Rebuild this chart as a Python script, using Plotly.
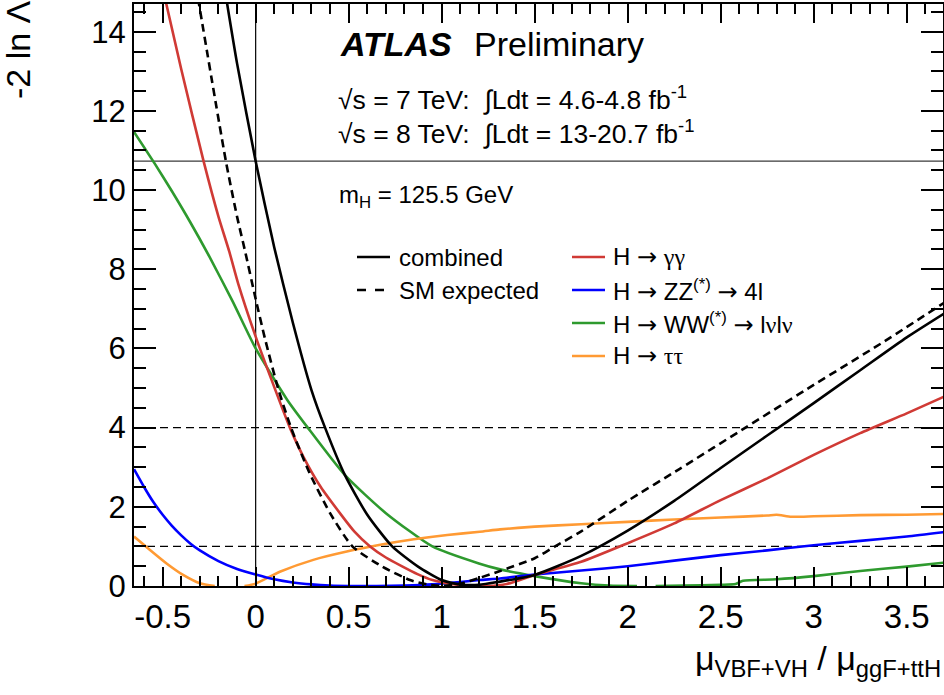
import plotly.graph_objects as go

# ---------------- data ----------------
x_comb = [-0.16, -0.1, 0.0, 0.1, 0.2, 0.3, 0.373, 0.48, 0.6, 0.734, 0.873, 1.0, 1.1, 1.2, 1.3,
          1.5, 1.75, 2.0, 2.25, 2.5, 2.75, 3.0, 3.25, 3.5, 3.7]
y_comb = [14.9, 13.2, 10.73, 8.55, 6.65, 4.95, 4.0, 2.8, 1.8, 1.0, 0.49, 0.15, 0.04, 0.03, 0.1,
          0.28, 0.76, 1.4, 2.15, 2.98, 3.8, 4.62, 5.45, 6.28, 6.88]

x_sm = [-0.31, -0.16, -0.1, -0.058, 0.0, 0.05, 0.12, 0.19, 0.29, 0.4, 0.52, 0.68, 0.83, 0.92,
        1.0, 1.1, 1.2, 1.314, 1.5, 1.61, 1.75, 2.0, 2.28, 2.64, 3.0, 3.36, 3.7]
y_sm = [14.85, 10.73, 9.33, 8.48, 7.25, 6.25, 5.0, 4.0, 2.85, 1.84, 1.0, 0.49, 0.15, 0.04,
        0.0, 0.06, 0.2, 0.38, 0.7, 1.0, 1.38, 2.15, 2.96, 4.02, 5.08, 6.12, 7.15]

x_gg = [-0.49, -0.4, -0.28, -0.2, -0.142, -0.094, 0.0, 0.086, 0.184, 0.256, 0.35, 0.453, 0.53,
        0.615, 0.7, 0.79, 0.87, 0.95, 1.05, 1.15, 1.25, 1.35, 1.5, 1.75, 2.0, 2.25, 2.5, 2.75,
        3.0, 3.25, 3.5, 3.7]
y_gg = [14.9, 13.05, 10.73, 9.33, 8.45, 7.64, 6.3, 5.2, 4.0, 3.27, 2.5, 1.84, 1.38, 1.0, 0.72,
        0.49, 0.3, 0.15, 0.05, 0.01, 0.0, 0.05, 0.28, 0.61, 1.08, 1.58, 2.17, 2.72, 3.31, 3.86,
        4.36, 4.78]

x_zz = [-0.654, -0.6, -0.55, -0.5, -0.45, -0.4, -0.35, -0.3, -0.2, -0.1, 0.0, 0.1, 0.2, 0.3,
        0.4, 0.5, 0.65, 0.8, 0.95, 1.1, 1.205, 1.314, 1.5, 1.75, 2.0, 2.25, 2.5, 2.75, 3.0,
        3.25, 3.5, 3.7]
y_zz = [2.95, 2.5, 2.12, 1.8, 1.52, 1.28, 1.07, 0.9, 0.63, 0.43, 0.29, 0.17, 0.09, 0.04,
        0.01, 0.0, 0.0, 0.01, 0.04, 0.1, 0.15, 0.19, 0.29, 0.39, 0.5, 0.64, 0.78, 0.9, 1.03,
        1.14, 1.25, 1.36]

x_ww = [-0.654, -0.54, -0.45, -0.353, -0.25, -0.125, 0.0, 0.17, 0.28, 0.48, 0.7, 0.95, 1.2,
        1.314, 1.5, 1.75, 1.9, 2.05, 2.1, 2.15, 2.3, 2.5, 2.58, 2.62, 2.8, 3.0, 3.25, 3.5, 3.7]
y_ww = [11.47, 10.65, 9.97, 9.2, 8.33, 7.2, 6.0, 4.7, 4.0, 2.8, 1.84, 1.0, 0.57, 0.42, 0.25,
        0.07, 0.01, 0.0, None, 0.0, 0.01, 0.03, 0.05, 0.13, 0.17, 0.25, 0.38, 0.49, 0.59]

x_tt = [-0.654, -0.568, -0.479, -0.39, -0.3, -0.22, -0.14, -0.06, 0.0, 0.13, 0.31, 0.49, 0.67,
        0.85, 1.03, 1.205, 1.314, 1.5, 1.75, 2.0, 2.25, 2.5, 2.75, 2.8, 2.88, 3.0, 3.25, 3.5, 3.7]
y_tt = [1.25, 0.91, 0.57, 0.28, 0.07, 0.0, None, 0.0, 0.06, 0.36, 0.66, 0.87, 1.04, 1.18, 1.29,
        1.37, 1.43, 1.50, 1.56, 1.62, 1.68, 1.73, 1.78, 1.80, 1.75, 1.76, 1.79, 1.80, 1.82]

sm_level = 10.73          # horizontal solid line
ref_levels = [1, 4]       # dashed horizontal lines
x_ticks = [-0.5, 0, 0.5, 1, 1.5, 2, 2.5, 3, 3.5]
x_ticktext = ["-0.5", "0", "0.5", "1", "1.5", "2", "2.5", "3", "3.5"]
y_ticks = [0, 2, 4, 6, 8, 10, 12, 14]
y_ticktext = ["0", "2", "4", "6", "8", "10", "12", "14"]
x_range = [-0.654, 3.695]
y_range = [0, 14.7]

# ---------------- styling ----------------
FONT = "Liberation Sans, Arial, Helvetica, sans-serif"
RED = "#d03a35"
BLUE = "#0000ff"
GREEN = "#2e9a2e"
ORANGE = "#ff9a33"

W, H = 944, 695
L, R, T, B = 134, 1, 4, 109
PW, PH = W - L - R, H - T - B


def px(xp):
    return (xp - L) / PW


def py(yp):
    return (H - B - yp) / PH


ARROW = "<span style='font-family:DejaVu Sans'>→</span>"


def greek(s):
    return "<span style='font-family:Liberation Serif'>" + s + "</span>"


fig = go.Figure()

# reference lines
fig.add_trace(go.Scatter(x=x_range, y=[sm_level, sm_level], mode="lines",
                         line=dict(color="#3a3a3a", width=1.3), hoverinfo="skip", showlegend=False))
for lv in ref_levels:
    fig.add_trace(go.Scatter(x=x_range, y=[lv, lv], mode="lines",
                             line=dict(color="black", width=1.2, dash="8px,5px"),
                             hoverinfo="skip", showlegend=False))
fig.add_trace(go.Scatter(x=[0, 0], y=y_range, mode="lines",
                         line=dict(color="black", width=1.2), hoverinfo="skip", showlegend=False))

curves = [
    (x_ww, y_ww, GREEN, "solid"),
    (x_tt, y_tt, ORANGE, "solid"),
    (x_zz, y_zz, BLUE, "solid"),
    (x_gg, y_gg, RED, "solid"),
    (x_sm, y_sm, "black", "8px,5px"),
    (x_comb, y_comb, "black", "solid"),
]
for xs, ys, col, dash in curves:
    fig.add_trace(go.Scatter(x=xs, y=ys, mode="lines", connectgaps=False,
                             line=dict(color=col, width=2.6, dash=dash, shape="spline",
                                       smoothing=0.6),
                             showlegend=False))

axis_common = dict(showgrid=False, zeroline=False, showline=True, linecolor="black",
                   linewidth=2, mirror="ticks", ticks="inside", tickcolor="black",
                   tickwidth=1.6, automargin=False)

fig.update_xaxes(range=x_range, tickvals=x_ticks, ticktext=x_ticktext, ticklen=19,
                 tickfont=dict(family=FONT, size=33, color="black"),
                 minor=dict(dtick=0.1, tick0=0, ticklen=10, ticks="inside",
                            tickcolor="black", tickwidth=1.6),
                 **axis_common)
fig.update_yaxes(range=y_range, tickvals=y_ticks, ticktext=y_ticktext, ticklen=22,
                 tickfont=dict(family=FONT, size=31, color="black"),
                 minor=dict(dtick=0.5, tick0=0, ticklen=12, ticks="inside",
                            tickcolor="black", tickwidth=1.6),
                 **axis_common)

ann = []
shapes = []


def text(xp, yp, s, size, anchor="left", **kw):
    ann.append(dict(x=px(xp), y=py(yp), xref="paper", yref="paper", text=s, showarrow=False,
                    xanchor=anchor, yanchor="middle",
                    font=dict(family=FONT, size=size, color="black"), **kw))


# axis titles
text(18, 50, "-2 ln Λ", 34, anchor="center", textangle=-90)
text(943, 660, "μ<sub>VBF+VH</sub> / μ<sub>ggF+ttH</sub>", 34, anchor="right")

# ATLAS labels
text(338, 44, "<b><i>ATLAS</i></b>", 34)
text(472, 44, "Preliminary", 34)
text(336, 98, "√s = 7 TeV:  ∫Ldt = 4.6-4.8 fb<sup>-1</sup>", 26.5)
text(336, 132, "√s = 8 TeV:  ∫Ldt = 13-20.7 fb<sup>-1</sup>", 26.5)
text(337, 196, "m<sub>H</sub> = 125.5 GeV", 24)

# legend
leg_left = [("combined", "black", "solid", 257), ("SM expected", "black", "dash", 290)]
for lab, col, dash, yy in leg_left:
    shapes.append(dict(type="line", xref="paper", yref="paper", x0=px(357), x1=px(390),
                       y0=py(yy), y1=py(yy), line=dict(color=col, width=2.6, dash=dash)))
    text(397, yy, lab, 24)

leg_right = [("H " + ARROW + " " + greek("γγ"), RED, 257),
             ("H " + ARROW + " ZZ<sup>(*)</sup> " + ARROW + " 4l", BLUE, 290),
             ("H " + ARROW + " WW<sup>(*)</sup> " + ARROW + " l" + greek("ν") + "l" + greek("ν"),
              GREEN, 323),
             ("H " + ARROW + " " + greek("ττ"), ORANGE, 356)]
for lab, col, yy in leg_right:
    shapes.append(dict(type="line", xref="paper", yref="paper", x0=px(572), x1=px(605),
                       y0=py(yy), y1=py(yy), line=dict(color=col, width=2.6)))
    text(611, yy, lab, 24)

fig.update_layout(width=W, height=H, margin=dict(l=L, r=R, t=T, b=B, pad=0, autoexpand=False),
                  paper_bgcolor="white", plot_bgcolor="white",
                  annotations=ann, shapes=shapes, showlegend=False,
                  font=dict(family=FONT, color="black"))

fig.write_html("out.html", config={"displayModeBar": False},
               post_script="document.body.style.margin='0px';")
